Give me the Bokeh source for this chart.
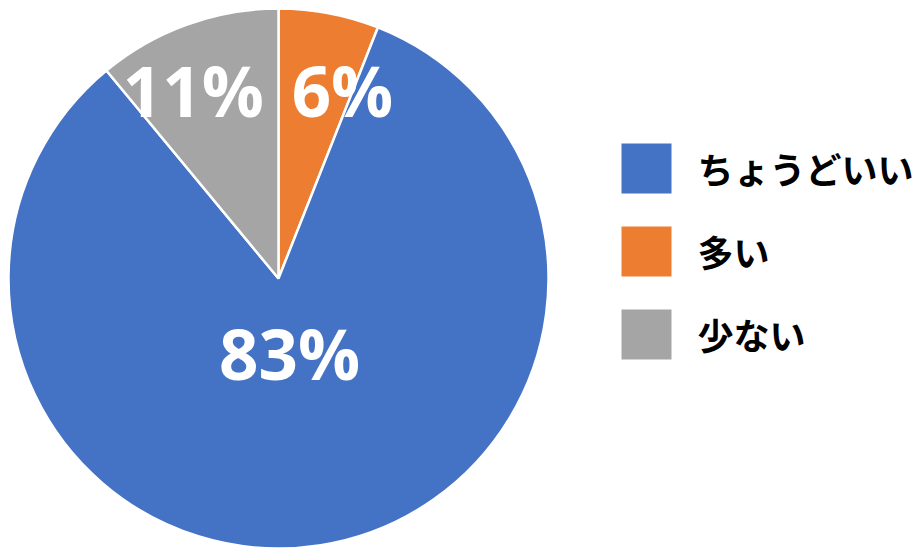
import math
from bokeh.plotting import figure
from bokeh.models import Range1d, ColumnDataSource
from bokeh.core.properties import value
from bokeh.embed import file_html
from bokeh.resources import INLINE

# ---- data ----
categories = ["ちょうどいい", "多い", "少ない"]
percents = [83, 6, 11]
colors = ["#4472C4", "#ED7D31", "#A5A5A5"]
# drawing order around the pie (clockwise from 12 o'clock)
pie_order = [1, 0, 2]

W, H = 924, 548
p = figure(width=W, height=H, output_backend="svg", toolbar_location=None,
           x_range=Range1d(0, W), y_range=Range1d(0, H),
           min_border=0, outline_line_color=None)
p.axis.visible = False
p.grid.visible = False

cx, cy, R = 278, 270, 270
total = sum(percents)

starts, ends, cols, mids = [], [], [], []
a = 90.0
for i in pie_order:
    span = percents[i] / total * 360.0
    starts.append(math.radians(a))
    ends.append(math.radians(a - span))
    mids.append(a - span / 2)
    cols.append(colors[i])
    a -= span

src = ColumnDataSource(dict(x=[cx] * 3, y=[cy] * 3, start=starts, end=ends, color=cols))
p.wedge(x="x", y="y", radius=R, start_angle="start", end_angle="end",
        direction="clock", fill_color="color", line_color="white", line_width=2.5,
        source=src)

# label placement (radius, angle nudge) per slice in pie order
label_r = [199.5, 75, 207]
label_nudge = [-7.9, -0.5, 4.5]
lx, ly, lt = [], [], []
for k, i in enumerate(pie_order):
    ang = math.radians(mids[k] + label_nudge[k])
    lx.append(cx + label_r[k] * math.cos(ang))
    ly.append(cy + label_r[k] * math.sin(ang))
    lt.append(f"{percents[i]}%")
p.text(x=lx, y=ly, text=lt, text_color="white", text_font=value("Open Sans"),
       text_font_style="bold", text_font_size="69px", text_align="center",
       text_baseline="middle")

# legend
leg_x, leg_top, leg_step = 646, 380, 83
ys = [leg_top - k * leg_step for k in range(len(categories))]
p.rect(x=[leg_x] * 3, y=ys, width=50, height=50, width_units="screen",
       height_units="screen", fill_color=colors, line_color=None)
p.text(x=[leg_x + 51] * 3, y=[y + 1 for y in ys], text=categories, text_color="black",
       text_font=value("Noto Sans CJK JP"), text_font_style="bold",
       text_font_size="36px", text_align="left", text_baseline="middle")

open("out.html", "w").write(file_html(p, INLINE))
